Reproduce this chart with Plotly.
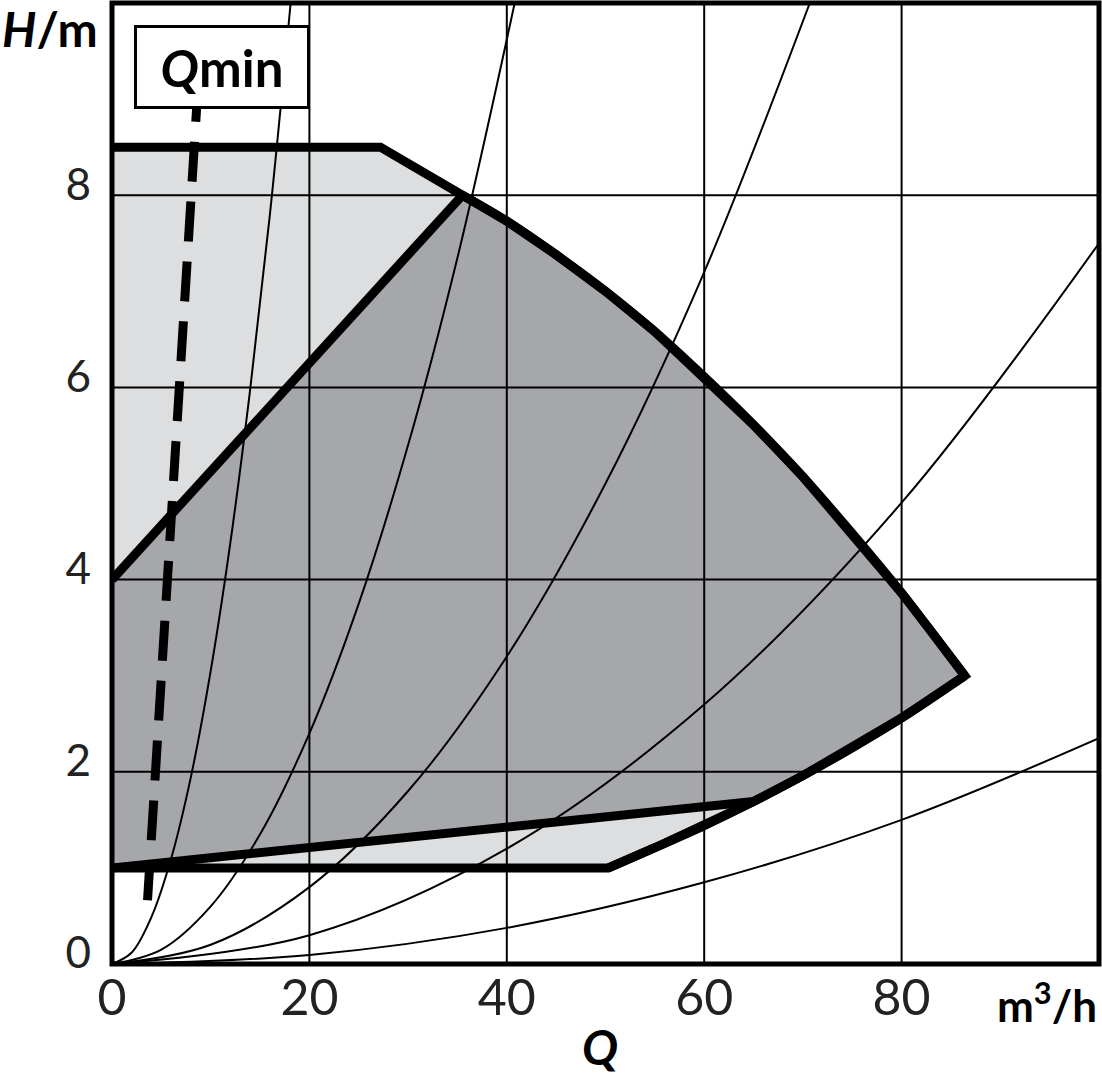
import plotly.graph_objects as go

# ---- data (Q in m3/h, H in m) ----
# outer envelope of the operating field (light grey)
top_q = [0, 27.2, 35.5]
top_h = [8.5, 8.5, 8.0]
max_q = [35.5, 40.0, 45.0, 50.0, 55.0, 60.0, 65.0, 70.0, 75.0, 80.0, 83.0, 86.4]
max_h = [8.0, 7.73, 7.38, 7.0, 6.58, 6.11, 5.61, 5.07, 4.48, 3.86, 3.46, 3.0]
low_q = [86.4, 80.0, 75.0, 70.0, 65.0, 60.0, 55.0, 50.3]
low_h = [3.0, 2.56, 2.25, 1.96, 1.69, 1.44, 1.21, 1.0]
bottom_q = [50.3, 0]
bottom_h = [1.0, 1.0]
# inner field (dark grey) boundaries
inner_left_q = [0, 35.5]
inner_left_h = [4.0, 8.0]
inner_bottom_q = [0, 65.0]
inner_bottom_h = [1.0, 1.69]
# Qmin line
qmin_q = [8.74, 3.55]
qmin_h = [9.18, 0.58]
# system curves
sys1_q = [0, 2, 4, 6, 8, 10, 12, 14, 16, 18.1]
sys1_h = [0, 0.12, 0.49, 1.1, 1.95, 3.05, 4.39, 5.98, 7.8, 10.0]
sys2_q = [0, 5, 10, 15, 20, 25, 30, 35, 40.8]
sys2_h = [0, 0.15, 0.6, 1.35, 2.4, 3.75, 5.4, 7.35, 10.0]
sys3_q = [0, 10, 20, 30, 40, 50, 60, 70.7]
sys3_h = [0, 0.2, 0.8, 1.8, 3.2, 5.0, 7.2, 10.0]
sys4_q = [0, 20, 40, 60, 80, 100]
sys4_h = [0, 0.3, 1.2, 2.7, 4.8, 7.5]
sys5_q = [0, 20, 40, 60, 80, 100]
sys5_h = [0, 0.094, 0.376, 0.85, 1.5, 2.35]

x_ticks = [0, 20, 40, 60, 80]
y_ticks = [0, 2, 4, 6, 8]
x_grid = [20, 40, 60, 80]
y_grid = [2, 4, 6, 8]

LIGHT = "#dddee0"
DARK = "#a6a7ab"
FONT = "Lato, 'Open Sans', 'DejaVu Sans', sans-serif"

fig = go.Figure()


def add_line(q, h, width, shape="linear", dash=None, fill=None, fillcolor=None):
    line = dict(color="black", width=width, shape=shape)
    if shape == "spline":
        line["smoothing"] = 1.0
    if dash:
        line["dash"] = dash
    fig.add_trace(go.Scatter(x=q, y=h, mode="lines", line=line, fill=fill, fillcolor=fillcolor,
                             hoverinfo="skip", showlegend=False))


# light field
light_q = top_q + max_q[1:] + low_q[1:] + [0]
light_h = top_h + max_h[1:] + low_h[1:] + [1.0]
add_line(light_q, light_h, 0, fill="toself", fillcolor=LIGHT)
# dark field
k65 = low_q.index(65.0)
dark_q = [inner_left_q[0]] + max_q + low_q[1:k65 + 1] + [inner_bottom_q[0]]
dark_h = [inner_left_h[0]] + max_h + low_h[1:k65 + 1] + [inner_bottom_h[0]]
add_line(dark_q, dark_h, 0, fill="toself", fillcolor=DARK)

# system curves
for q, h in [(sys1_q, sys1_h), (sys2_q, sys2_h), (sys3_q, sys3_h), (sys4_q, sys4_h), (sys5_q, sys5_h)]:
    add_line(q, h, 2, shape="spline")

# thick outlines (polyline for sharp corners + smooth overlay for the curved parts)
outline_q = top_q + max_q[1:] + low_q[1:] + bottom_q[1:]
outline_h = top_h + max_h[1:] + low_h[1:] + bottom_h[1:]
add_line(outline_q, outline_h, 9)
add_line(max_q, max_h, 9, shape="spline")
add_line(low_q, low_h, 9, shape="spline")
add_line(inner_left_q, inner_left_h, 9)
add_line(inner_bottom_q, inner_bottom_h, 9)
# Qmin dashed
add_line(qmin_q, qmin_h, 9, dash="40px,20px")

shapes = []
for gx in x_grid:
    shapes.append(dict(type="line", xref="x", yref="paper", x0=gx, x1=gx, y0=0, y1=1,
                       line=dict(color="black", width=2), layer="above"))
for gy in y_grid:
    shapes.append(dict(type="line", xref="paper", yref="y", x0=0, x1=1, y0=gy, y1=gy,
                       line=dict(color="black", width=2), layer="above"))
shapes.append(dict(type="rect", xref="paper", yref="paper", x0=0, x1=1, y0=0, y1=1,
                   line=dict(color="black", width=5), layer="above"))

L, R, T, B = 112, 3, 3, 116
W, H = 1102, 1080
pw, ph = W - L - R, H - T - B


def px(X):
    return (X - L) / pw


def py(Y):
    return (H - B - Y) / ph


annotations = [
    dict(text="<b><i>H</i>/m</b>", xref="paper", yref="paper", x=px(0), y=py(29),
         xanchor="left", yanchor="middle", showarrow=False, font=dict(family=FONT, size=48, color="black")),
    dict(text="<b>m<sup>3</sup>/h</b>", xref="paper", yref="paper", x=px(1099), y=py(1003),
         xanchor="right", yanchor="middle", showarrow=False, font=dict(family=FONT, size=44, color="black")),
    dict(text="<b><i>Q</i></b>", xref="paper", yref="paper", x=px(600), y=py(1046),
         xanchor="center", yanchor="middle", showarrow=False, font=dict(family=FONT, size=48, color="black")),
    dict(text="<b><i>Q</i>min</b>", xref="paper", yref="paper", x=px(222), y=py(67),
         xanchor="center", yanchor="middle", showarrow=False, width=170, height=78,
         bgcolor="white", bordercolor="black", borderwidth=3, borderpad=0,
         font=dict(family=FONT, size=51, color="black")),
]

fig.update_layout(
    width=W, height=H,
    margin=dict(l=L, r=R, t=T, b=B),
    paper_bgcolor="white", plot_bgcolor="white",
    showlegend=False,
    shapes=shapes,
    annotations=annotations,
    xaxis=dict(range=[0, 100], tickvals=x_ticks, ticktext=[str(v) for v in x_ticks],
               showgrid=False, zeroline=False, showline=False, ticks="",
               tickfont=dict(family=FONT, size=50, color="#222"), ticklabelstandoff=0),
    yaxis=dict(range=[0, 10], tickvals=y_ticks, ticktext=[str(v) for v in y_ticks],
               showgrid=False, zeroline=False, showline=False, ticks="",
               tickfont=dict(family=FONT, size=44, color="#222"), ticklabelstandoff=20,
               ticklabelshift=-11),
)

fig.write_html("out.html", config={"displayModeBar": False},
               post_script="document.body.style.margin='0px';")
